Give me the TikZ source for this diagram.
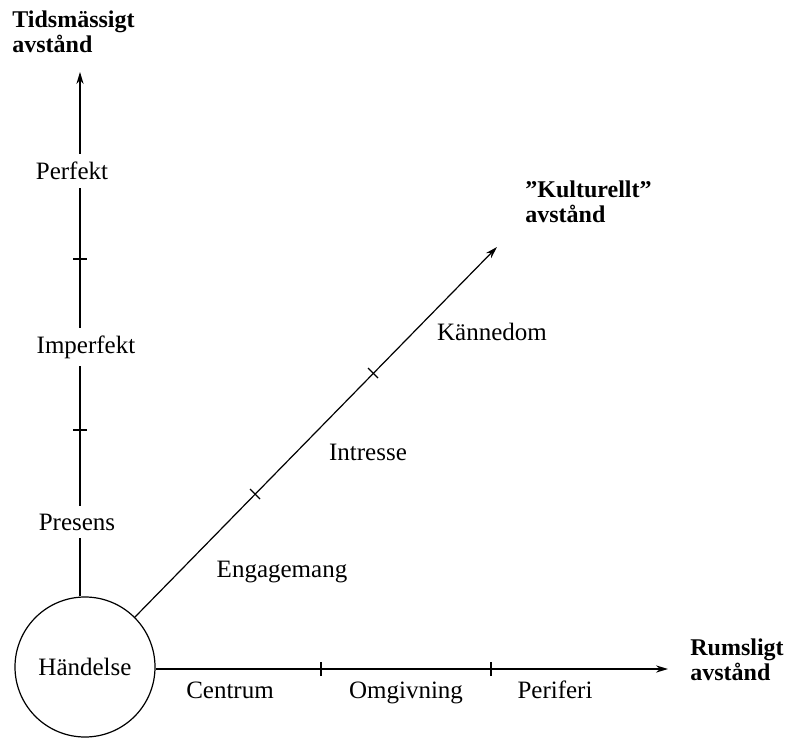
\documentclass[tikz,border=0pt]{standalone}
\usepackage{fontspec}
\setmainfont{Liberation Serif}
\usetikzlibrary{arrows.meta}
\begin{document}
\begin{tikzpicture}[x=0.5pt,y=-0.5pt,
  axis/.style={line width=0.6pt},
  arr/.style={axis,-{Stealth[length=6pt,width=3.6pt]}},
  tick/.style={line width=0.6pt},
  lbl/.style={font=\fontsize{12.5}{14}\selectfont, inner sep=0pt},
  hlbl/.style={lbl, anchor=base},
  vlbl/.style={lbl, fill=white, inner xsep=1pt, inner ysep=4pt},
  ttl/.style={font=\fontsize{12}{12.5}\selectfont\bfseries, align=left, inner sep=0pt, anchor=north west}]
\useasboundingbox (0,0) rectangle (788,744);
% event circle
\node[draw, circle, line width=0.6pt, minimum size=70pt, inner sep=0pt, lbl] (ev) at (85,667) {Händelse};
% axis end points
\coordinate (tEnd) at (80,72);
\coordinate (rEnd) at (668,669);
\coordinate (kEnd) at (497,247);
% axes
\draw[arr] (ev.north -| tEnd) -- (tEnd);
\draw[arr] (ev.east |- rEnd) -- (rEnd);
\draw[arr] (ev.45) -- (kEnd);
% ticks on time axis
\coordinate (t1) at (80,430);
\coordinate (t2) at (80,259);
\draw[tick] ([xshift=-3.5pt]t1) -- ([xshift=3.5pt]t1);
\draw[tick] ([xshift=-3.5pt]t2) -- ([xshift=3.5pt]t2);
% ticks on space axis
\coordinate (r1) at (321,669);
\coordinate (r2) at (491,669);
\draw[tick] ([yshift=-3.5pt]r1) -- ([yshift=3.5pt]r1);
\draw[tick] ([yshift=-3.5pt]r2) -- ([yshift=3.5pt]r2);
% ticks on cultural axis
\coordinate (k1) at (255,494);
\coordinate (k2) at (373,373);
\draw[tick] ([shift={(-5,-5)}]k1) -- ([shift={(5,5)}]k1);
\draw[tick] ([shift={(-5,-5)}]k2) -- ([shift={(5,5)}]k2);
% labels
\node[vlbl] (presens) at (77,522) {Presens};
\node[vlbl] (imperf) at (86,347) {Imperfekt};
\node[vlbl] (perf) at (72,171) {Perfekt};
\node[hlbl] (centrum) at (230,698) {Centrum};
\node[hlbl] (omg) at (406,698) {Omgivning};
\node[hlbl] (perif) at (555,698) {Periferi};
\node[lbl] (eng) at (282,572) {Engagemang};
\node[lbl] (intr) at (368,452) {Intresse};
\node[lbl] (kann) at (492,332) {Kännedom};
% titles
\node[ttl] (tTitle) at (12,10) {Tidsmässigt\\avstånd};
\node[ttl] (kTitle) at (525,180) {”Kulturellt”\\avstånd};
\node[ttl] (rTitle) at (690,638) {Rumsligt\\avstånd};
\end{tikzpicture}
\end{document}
